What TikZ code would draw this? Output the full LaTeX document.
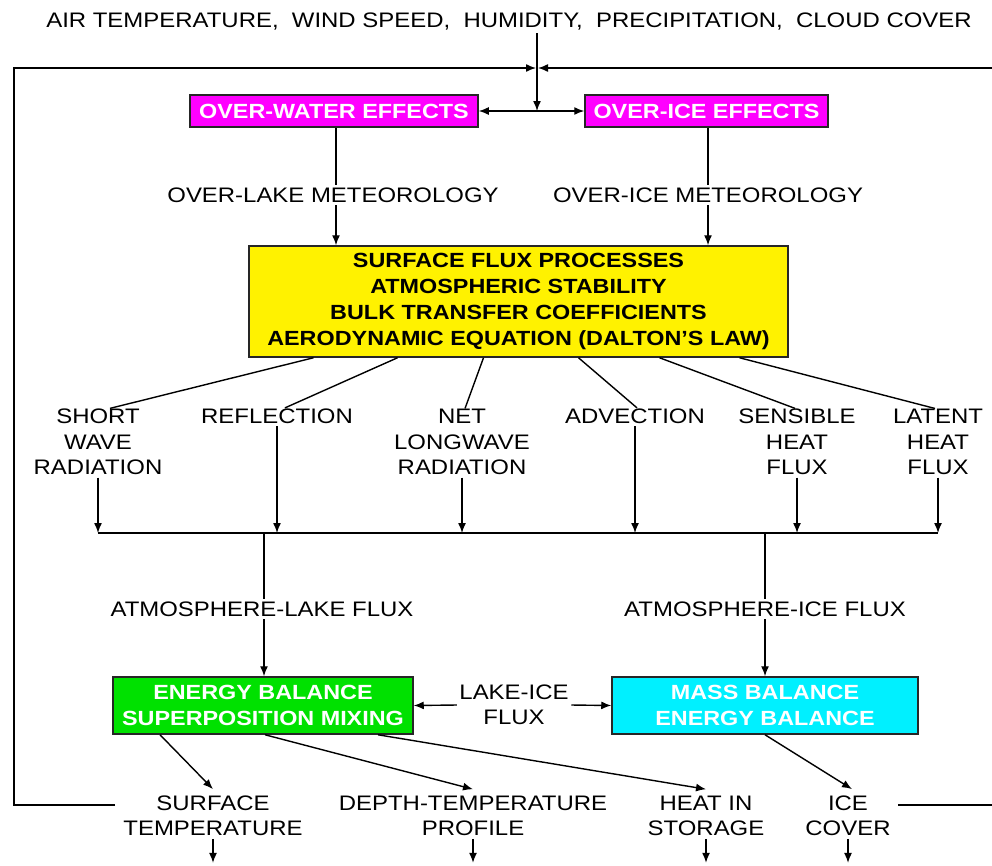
\documentclass[tikz,border=0pt]{standalone}
\usepackage{fontspec}
\setmainfont{Liberation Sans}[FakeStretch=1.14]
\usetikzlibrary{positioning,arrows.meta}
\definecolor{boxmagenta}{RGB}{255,0,255}
\definecolor{boxgreen}{RGB}{0,225,0}
\definecolor{boxcyan}{RGB}{0,240,255}
\begin{document}
\begin{tikzpicture}[x=1pt,y=-1pt,line width=1.4pt]
	\tikzstyle{every node}=[inner sep=2pt,align=center,font=\fontsize{21}{25.5}\selectfont]
	\tikzstyle{box}=[draw=black!85,line width=1.5pt,text=white,font=\bfseries\fontsize{20.5}{25.5}\selectfont]
	\tikzstyle{flow}=[-{Latex[length=10pt,width=8pt]}]
	\tikzstyle{both}=[{Latex[length=10pt,width=8pt]}-{Latex[length=10pt,width=8pt]}]
	\useasboundingbox (0,0) rectangle (992,865);
	% inputs and feedback loop
	\node (weather) at (509,22) {AIR TEMPERATURE,\ \ WIND SPEED,\ \ HUMIDITY,\ \ PRECIPITATION,\ \ CLOUD COVER};
	\node[box,fill=boxmagenta,minimum width=288pt,minimum height=32pt] (water) at (334,111) {OVER-WATER EFFECTS};
	\node[box,fill=boxmagenta,minimum width=243pt,minimum height=32pt] (ice) at (706.5,111) {OVER-ICE EFFECTS};
	\coordinate (split) at (537,111);
	\coordinate (loopin) at (537,68);
	\draw[flow] (weather.south -| split) -- (split);
	\draw[both] (water.east) -- (ice.west);
	% over-lake and over-ice meteorology
	\node (lakemet) at (333,195) {OVER-LAKE METEOROLOGY};
	\node (icemet) at (708,195) {OVER-ICE METEOROLOGY};
	\node[box,fill=yellow,text=black,minimum width=539pt,minimum height=111pt,font=\bfseries\fontsize{20.5}{25.8}\selectfont] (flux) at (518.5,301.5)
		{SURFACE FLUX PROCESSES\\ATMOSPHERIC STABILITY\\BULK TRANSFER COEFFICIENTS\\AERODYNAMIC EQUATION (DALTON'S LAW)};
	\draw ([xshift=3pt]water.south -| lakemet) -- ([xshift=3pt]lakemet.north);
	\draw[flow] ([xshift=3pt]lakemet.south) -- ([xshift=3pt]lakemet.south |- flux.north);
	\draw (ice.south -| icemet) -- (icemet.north);
	\draw[flow] (icemet.south) -- (icemet.south |- flux.north);
	% flux components
	\node (short) at (98,442) {SHORT\\WAVE\\RADIATION};
	\node (refl) at (277,416) {REFLECTION};
	\node (longw) at (462,442) {NET\\LONGWAVE\\RADIATION};
	\node (adv) at (635,416) {ADVECTION};
	\node (sens) at (797,442) {SENSIBLE\\HEAT\\FLUX};
	\node (lat) at (938,442) {LATENT\\HEAT\\FLUX};
	\draw ([xshift=-205pt]flux.south) -- ([xshift=12pt,yshift=-2pt]short.north);
	\draw ([xshift=-121pt]flux.south) -- ([xshift=8pt,yshift=-2pt]refl.north);
	\draw ([xshift=-35pt]flux.south) -- ([xshift=3pt,yshift=-2pt]longw.north);
	\draw ([xshift=60pt]flux.south) -- ([xshift=2pt,yshift=-2pt]adv.north);
	\draw ([xshift=141pt]flux.south) -- ([xshift=-2pt,yshift=-2pt]sens.north);
	\draw ([xshift=221pt]flux.south) -- ([xshift=-3pt,yshift=-2pt]lat.north);
	\coordinate (busl) at (98,533);
	\coordinate (busr) at (938,533);
	\draw (busl) -- (busr);
	\foreach \n in {short,refl,longw,adv,sens,lat}
		\draw[flow] (\n.south) -- (\n.south |- busl);
	% atmosphere fluxes
	\node (atmlake) at (262,609) {ATMOSPHERE-LAKE FLUX};
	\node (atmice) at (765,609) {ATMOSPHERE-ICE FLUX};
	\node[box,fill=boxgreen,minimum width=300pt,minimum height=57pt] (energy) at (263,705.5) {ENERGY BALANCE\\SUPERPOSITION MIXING};
	\node[box,fill=boxcyan,minimum width=306pt,minimum height=57pt] (mass) at (765,705.5) {MASS BALANCE\\ENERGY BALANCE};
	\node (lakeice) at (514,705) {LAKE-ICE\\FLUX};
	\draw ([xshift=2pt]busl -| atmlake) -- ([xshift=2pt]atmlake.north);
	\draw[flow] ([xshift=2pt]atmlake.south) -- ([xshift=2pt]atmlake.south |- energy.north);
	\draw (busl -| atmice) -- (atmice.north);
	\draw[flow] (atmice.south) -- (atmice.south |- mass.north);
	\draw[flow] (lakeice.west) -- (energy.east);
	\draw[flow] (lakeice.east) -- (mass.west);
	% outputs
	\node (surf) at (213,816) {SURFACE\\TEMPERATURE};
	\node (depth) at (473,816) {DEPTH-TEMPERATURE\\PROFILE};
	\node (heat) at (706,816) {HEAT IN\\STORAGE};
	\node (cover) at (848,816) {ICE\\COVER};
	\draw[flow] ([xshift=-103pt]energy.south) -- ([yshift=4pt]surf.north);
	\draw[flow] ([xshift=2pt]energy.south) -- ([yshift=4pt]depth.north);
	\draw[flow] ([xshift=115pt]energy.south) -- ([yshift=4pt]heat.north);
	\draw[flow] (mass.south) -- ([xshift=4pt,yshift=4pt]cover.north);
	\foreach \n in {surf,depth,heat,cover}
		\draw[flow] (\n.south) -- ++(0,24);
	% feedback to the atmosphere
	\coordinate (fbl) at (115,805);
	\coordinate (fbr) at (898,805);
	\draw[flow] (fbl) -- (14,805) -- (14,68) -- ([xshift=-1pt]loopin);
	\draw[flow] (fbr) -- (993,805) -- (993,68) -- ([xshift=1pt]loopin);
\end{tikzpicture}
\end{document}
